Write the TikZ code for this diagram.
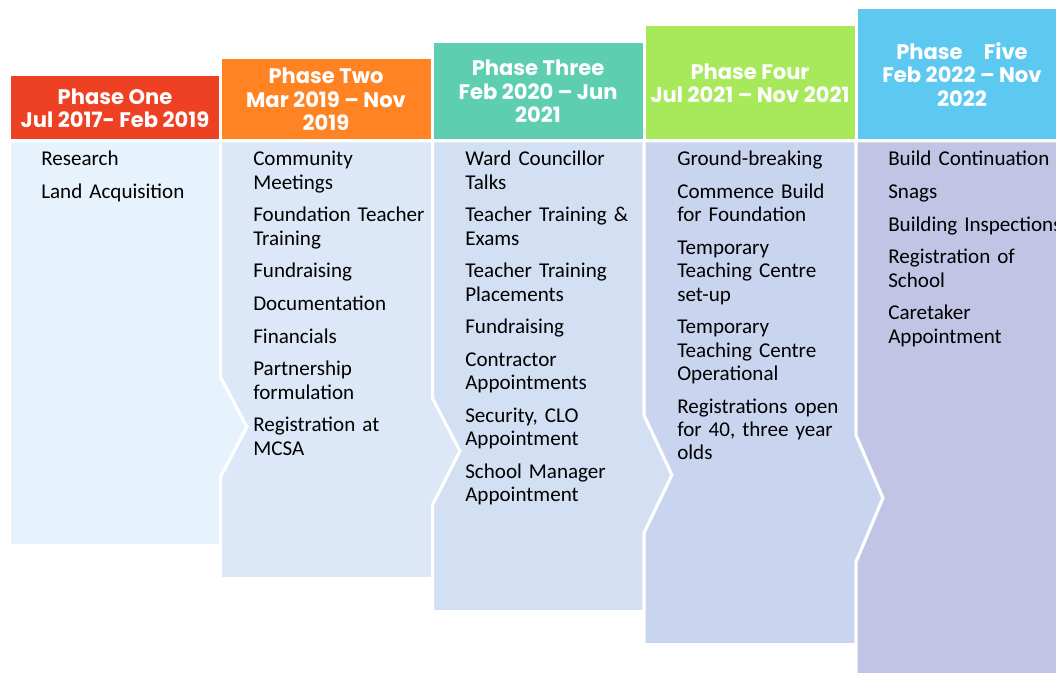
\documentclass[tikz,border=0pt]{standalone}
\usepackage{fontspec}
\setmainfont{Carlito}
\newfontfamily\headfont{Poppins}
\usetikzlibrary{positioning}

\definecolor{headone}{HTML}{EE4124}
\definecolor{headtwo}{HTML}{FF8322}
\definecolor{headthree}{HTML}{5ECEB1}
\definecolor{headfour}{HTML}{A8E85B}
\definecolor{headfive}{HTML}{5DC9F1}
\definecolor{bodyone}{HTML}{E6F2FC}
\definecolor{bodytwo}{HTML}{DCE8F7}
\definecolor{bodythree}{HTML}{D3DFF2}
\definecolor{bodyfour}{HTML}{C9D4EE}
\definecolor{bodyfive}{HTML}{C1C4E5}

\begin{document}
\begin{tikzpicture}[
    x=0.75pt, y=-0.75pt,
    band/.style={draw=white, line width=2.25pt, line join=miter},
    head/.style={font=\headfont\bfseries\fontsize{15.8}{17.5}\selectfont, text=white, align=center, inner sep=0pt},
    items/.style={font=\fontsize{15.8}{17.5}\selectfont, align=left, text width=200pt, anchor=base west, inner sep=0pt}
]
    \clip (0,0) rectangle (1056,673);

    % Bodies
    \path[band, fill=bodyone] (9.5,141) -- (220.5,141) -- (220.5,377) -- (247,427) -- (220.5,477) -- (220.5,545.5) -- (9.5,545.5) -- cycle;
    \path[band, fill=bodytwo] (220.5,141) -- (432.5,141) -- (432.5,398) -- (460,451) -- (432.5,505) -- (432.5,578.5) -- (220.5,578.5) -- (220.5,477) -- (247,427) -- (220.5,377) -- cycle;
    \path[band, fill=bodythree] (432.5,141) -- (644,141) -- (644,415) -- (672,475) -- (644,533) -- (644,611.5) -- (432.5,611.5) -- (432.5,505) -- (460,451) -- (432.5,398) -- cycle;
    \path[band, fill=bodyfour] (644,141) -- (856,141) -- (856,435) -- (883,498) -- (856,562) -- (856,644.5) -- (644,644.5) -- (644,533) -- (672,475) -- (644,415) -- cycle;
    \path[band, fill=bodyfive] (856,141) -- (1070,141) -- (1070,690) -- (856,690) -- (856,562) -- (883,498) -- (856,435) -- cycle;

    % Headers
    \path[band, fill=headone] (9.5,74.5) rectangle (220.5,141);
    \path[band, fill=headtwo] (220.5,57.5) rectangle (432.5,141);
    \path[band, fill=headthree] (432.5,41.5) rectangle (644,141);
    \path[band, fill=headfour] (644,24.5) rectangle (856,141);
    \path[band, fill=headfive] (856,7.5) rectangle (1068,141);

    \node[head] (h1) at (115,108) {Phase One\\Jul 2017- Feb 2019};
    \node[head] (h2) at (326,99.5) {Phase Two\\Mar 2019 – Nov\\2019};
    \node[head] (h3) at (538,91.5) {Phase Three\\Feb 2020 – Jun\\2021};
    \node[head] (h4) at (750,83) {Phase Four\\Jul 2021 – Nov 2021};
    \node[head] (h5) at (962,74.5) {Phase\quad Five\\Feb 2022 – Nov\\2022};

    % Tasks
    \node[items] (t1) at (41,166) {Research\\[7pt]
        Land Acquisition};
    \node[items] (t2) at (253,166) {Community\\Meetings\\[7pt]
        Foundation Teacher\\Training\\[7pt]
        Fundraising\\[7pt]
        Documentation\\[7pt]
        Financials\\[7pt]
        Partnership\\formulation\\[7pt]
        Registration at\\MCSA};
    \node[items] (t3) at (465,166) {Ward Councillor\\Talks\\[7pt]
        Teacher Training \&\\Exams\\[7pt]
        Teacher Training\\Placements\\[7pt]
        Fundraising\\[7pt]
        Contractor\\Appointments\\[7pt]
        Security, CLO\\Appointment\\[7pt]
        School Manager\\Appointment};
    \node[items] (t4) at (677,166) {Ground-breaking\\[7pt]
        Commence Build\\for Foundation\\[7pt]
        Temporary\\Teaching Centre\\set-up\\[7pt]
        Temporary\\Teaching Centre\\Operational\\[7pt]
        Registrations open\\for 40, three year\\olds};
    \node[items] (t5) at (888,166) {Build Continuation\\[7pt]
        Snags\\[7pt]
        Building Inspections\\[7pt]
        Registration of\\School\\[7pt]
        Caretaker\\Appointment};
\end{tikzpicture}
\end{document}
